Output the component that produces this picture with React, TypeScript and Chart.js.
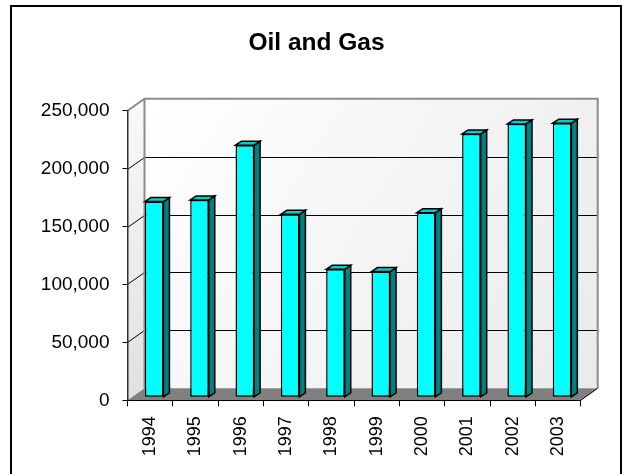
import { useEffect, useRef } from "react";
import { Chart, registerables } from "chart.js";

Chart.register(...registerables);

const title = "Oil and Gas";
const categories = ["1994", "1995", "1996", "1997", "1998", "1999", "2000", "2001", "2002", "2003"];
const values = [169000, 170400, 217600, 158000, 110500, 108500, 159400, 227400, 236000, 236600];
const yTickValues = [0, 50000, 100000, 150000, 200000, 250000];

const FONT = "'Liberation Sans', Arial, sans-serif";
// perspective offsets (pixels)
const WALL_DX = 17;
const WALL_DY = -12;
const BAR_SHIFT_X = 4;
const BAR_SHIFT_Y = -3;
const BAR_DX = 6;
const BAR_DY = -4;

const threeD = {
  id: "threeD",
  beforeDraw(chart: any) {
    const { ctx, chartArea: a, scales } = chart;
    const y = scales.y;
    const yMax = yTickValues[yTickValues.length - 1];
    const L = a.left;
    const R = a.right;
    const T = y.getPixelForValue(yMax);
    const B = y.getPixelForValue(0);
    const bl = L + WALL_DX;
    const br = R + WALL_DX;
    const bt = T + WALL_DY;
    const bb = B + WALL_DY;
    ctx.save();
    // outer frame
    ctx.strokeStyle = "#000";
    ctx.lineWidth = 2;
    ctx.strokeRect(11, 6, 610, 520);
    // back wall
    const g = ctx.createLinearGradient(bl, bt, br, bb);
    g.addColorStop(0, "#FFFFFF");
    g.addColorStop(1, "#EAEAEA");
    ctx.fillStyle = g;
    ctx.fillRect(bl, bt, br - bl, bb - bt);
    // left wall
    const g2 = ctx.createLinearGradient(L, T, bl, B);
    g2.addColorStop(0, "#F8F8F8");
    g2.addColorStop(1, "#E0E0E0");
    ctx.fillStyle = g2;
    ctx.beginPath();
    ctx.moveTo(L, T);
    ctx.lineTo(bl, bt);
    ctx.lineTo(bl, bb);
    ctx.lineTo(L, B);
    ctx.closePath();
    ctx.fill();
    // floor
    ctx.fillStyle = "#808080";
    ctx.beginPath();
    ctx.moveTo(L, B);
    ctx.lineTo(R, B);
    ctx.lineTo(br, bb);
    ctx.lineTo(bl, bb);
    ctx.closePath();
    ctx.fill();
    // gridlines
    ctx.strokeStyle = "#000";
    ctx.lineWidth = 1;
    for (const v of yTickValues) {
      if (v === 0 || v === yMax) continue;
      const py = Math.round(y.getPixelForValue(v)) + 0.5;
      ctx.beginPath();
      ctx.moveTo(L, py);
      ctx.lineTo(bl, py + WALL_DY);
      ctx.lineTo(br, py + WALL_DY);
      ctx.stroke();
    }
    // wall edges
    ctx.strokeStyle = "#8C8C8C";
    ctx.lineWidth = 2;
    ctx.beginPath();
    ctx.moveTo(L, T);
    ctx.lineTo(bl, bt);
    ctx.lineTo(br, bt);
    ctx.lineTo(br, bb);
    ctx.moveTo(bl, bt);
    ctx.lineTo(bl, bb);
    ctx.stroke();
    // floor right edge
    ctx.strokeStyle = "#000";
    ctx.lineWidth = 1;
    ctx.beginPath();
    ctx.moveTo(R, B);
    ctx.lineTo(br, bb);
    ctx.stroke();
    ctx.restore();
  },
  beforeDatasetsDraw(chart: any) {
    chart.ctx.save();
    chart.ctx.translate(BAR_SHIFT_X, BAR_SHIFT_Y);
  },
  afterDatasetsDraw(chart: any) {
    const ctx = chart.ctx;
    const meta = chart.getDatasetMeta(0);
    ctx.lineWidth = 1.5;
    ctx.strokeStyle = "#000";
    ctx.lineJoin = "miter";
    for (const el of meta.data) {
      const { x, y, base, width } = el.getProps(["x", "y", "base", "width"], true);
      const left = x - width / 2;
      const right = x + width / 2;
      // side face
      ctx.fillStyle = "#008080";
      ctx.beginPath();
      ctx.moveTo(right, y);
      ctx.lineTo(right + BAR_DX, y + BAR_DY);
      ctx.lineTo(right + BAR_DX, base + BAR_DY);
      ctx.lineTo(right, base);
      ctx.closePath();
      ctx.fill();
      ctx.stroke();
      // top face
      ctx.fillStyle = "#00CCCC";
      ctx.beginPath();
      ctx.moveTo(left, y);
      ctx.lineTo(left + BAR_DX, y + BAR_DY);
      ctx.lineTo(right + BAR_DX, y + BAR_DY);
      ctx.lineTo(right, y);
      ctx.closePath();
      ctx.fill();
      ctx.stroke();
    }
    ctx.restore();
  },
};

export default function App() {
  const ref = useRef<HTMLCanvasElement | null>(null);

  useEffect(() => {
    if (!ref.current) return;
    const chart = new Chart(ref.current, {
      type: "bar",
      data: {
        labels: categories,
        datasets: [
          {
            label: title,
            data: values,
            backgroundColor: "#00FFFF",
            borderColor: "#000000",
            borderWidth: 1.5,
            borderSkipped: false,
            barPercentage: 0.41,
            categoryPercentage: 1,
            clip: false as any,
            yAxisID: "y",
          },
        ],
      },
      options: {
        animation: false,
        responsive: false,
        devicePixelRatio: 1,
        layout: { padding: { left: 4, right: 0, top: 0, bottom: 0 } },
        plugins: {
          legend: { display: false },
          tooltip: { enabled: false },
          title: {
            display: true,
            text: title,
            color: "#000",
            font: { family: FONT, size: 24.5, weight: "bold" },
            padding: { top: 28.8, bottom: 52.5 },
          },
        },
        scales: {
          x: {
            type: "category",
            offset: true,
            grid: {
              display: true,
              drawOnChartArea: false,
              drawTicks: true,
              tickLength: 6,
              color: "#000",
              offset: true,
            },
            border: { display: true, color: "#000", width: 1 },
            ticks: {
              color: "#000",
              font: { family: FONT, size: 18 },
              minRotation: 90,
              maxRotation: 90,
              autoSkip: false,
              padding: 10,
            },
            afterFit: (s: any) => {
              s.height = 73.7;
            },
          },
          y: {
            min: 0,
            max: 250000,
            position: "left",
            grid: {
              display: true,
              drawOnChartArea: false,
              drawTicks: true,
              tickLength: 5,
              color: "#000",
            },
            border: { display: true, color: "#333", width: 1.5 },
            ticks: {
              stepSize: 50000,
              color: "#000",
              font: { family: FONT, size: 19 },
              padding: 13,
              callback: (v: any) => Number(v).toLocaleString("en-US"),
            },
            afterFit: (s: any) => {
              s.width = 123.5;
            },
          },
          yR: {
            position: "right",
            display: true,
            grid: { display: false },
            border: { display: false },
            ticks: { display: false },
            afterFit: (s: any) => {
              s.width = 48.3;
            },
          },
        },
      },
      plugins: [threeD],
    });
    return () => chart.destroy();
  }, []);

  return (
    <div style={{ position: "fixed", left: 0, top: 0, width: 629, height: 474, background: "#fff" }}>
      <canvas ref={ref} width={629} height={474} style={{ display: "block" }} />
    </div>
  );
}
